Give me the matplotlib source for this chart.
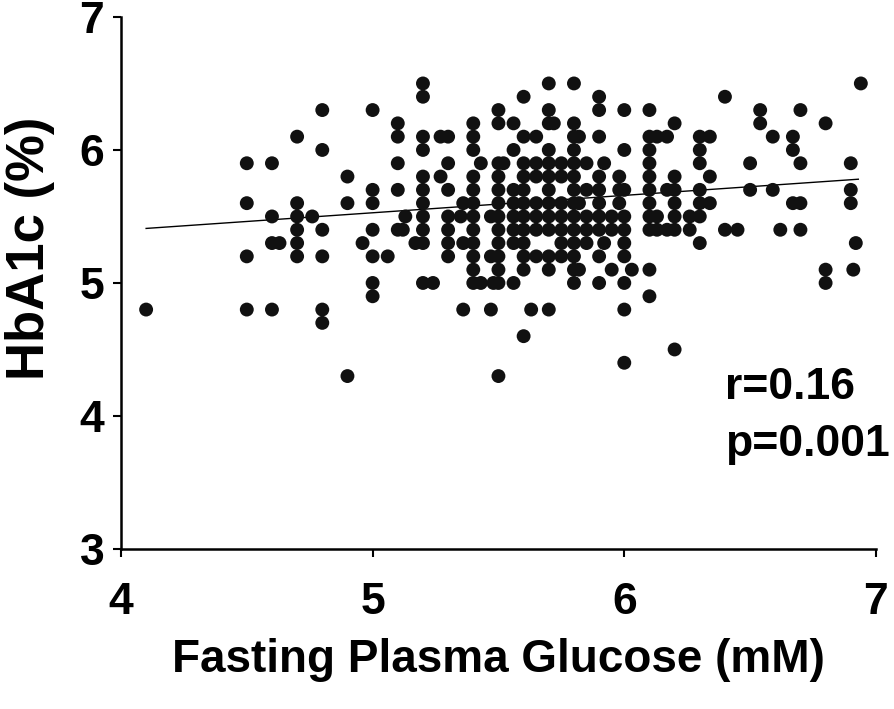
import matplotlib
matplotlib.use("Agg")
import matplotlib.pyplot as plt
import numpy as np

# fasting plasma glucose (mM) and HbA1c (%), read column by column
fpg = (
    [4.1]
    + [4.5] * 4 + [4.6] * 4 + [4.63]
    + [4.7] * 6 + [4.76]
    + [4.8] * 6 + [4.9] * 3 + [4.96]
    + [5.0] * 7 + [5.06]
    + [5.1] * 5 + [5.12, 5.13]
    + [5.2] * 11 + [5.17, 5.24]
    + [5.27, 5.27] + [5.3] * 7
    + [5.36] * 3 + [5.35]
    + [5.4] * 12 + [5.43, 5.43]
    + [5.47] * 3 + [5.48]
    + [5.5] * 13 + [5.52]
    + [5.56] * 8
    + [5.6] * 12 + [5.63]
    + [5.65] * 7
    + [5.7] * 13 + [5.72]
    + [5.75] * 7
    + [5.8] * 14
    + [5.82] * 3
    + [5.85] * 5
    + [5.9] * 10
    + [5.92] * 2
    + [5.95] * 3
    + [5.98] * 3
    + [6.0] * 10 + [6.03]
    + [6.1] * 11
    + [6.13] * 3 + [6.17] * 3
    + [6.2] * 7 + [6.26] * 2
    + [6.3] * 7 + [6.34] * 3
    + [6.4] * 2 + [6.45]
    + [6.5] * 2 + [6.54] * 2 + [6.59] * 2 + [6.62]
    + [6.67] * 3 + [6.7] * 4
    + [6.8] * 3 + [6.9] * 3 + [6.91, 6.92, 6.94]
)
hba1c = (
    [4.8]
    + [5.9, 5.6, 5.2, 4.8] + [5.9, 5.5, 5.3, 4.8] + [5.3]
    + [6.1, 5.6, 5.5, 5.4, 5.3, 5.2] + [5.5]
    + [6.3, 6.0, 5.4, 5.2, 4.8, 4.7] + [5.8, 5.6, 4.3] + [5.3]
    + [6.3, 5.7, 5.6, 5.4, 5.2, 5.0, 4.9] + [5.2]
    + [6.2, 6.1, 5.9, 5.7, 5.4] + [5.4, 5.5]
    + [6.5, 6.4, 6.1, 6.0, 5.8, 5.7, 5.6, 5.5, 5.4, 5.3, 5.0] + [5.3, 5.0]
    + [6.1, 5.8] + [6.1, 5.9, 5.7, 5.5, 5.4, 5.3, 5.2]
    + [5.6, 5.3, 4.8] + [5.5]
    + [6.2, 6.1, 6.0, 5.8, 5.7, 5.6, 5.5, 5.4, 5.3, 5.2, 5.1, 5.0] + [5.9, 5.0]
    + [5.5, 5.2, 4.8] + [5.0]
    + [6.3, 6.2, 5.9, 5.8, 5.7, 5.6, 5.5, 5.4, 5.3, 5.2, 5.1, 5.0, 4.3] + [5.9]
    + [6.2, 6.0, 5.7, 5.6, 5.5, 5.4, 5.3, 5.0]
    + [6.4, 6.1, 5.9, 5.8, 5.7, 5.6, 5.5, 5.4, 5.3, 5.2, 5.1, 4.6] + [4.8]
    + [6.1, 5.9, 5.8, 5.6, 5.5, 5.4, 5.2]
    + [6.5, 6.3, 6.2, 6.0, 5.9, 5.8, 5.7, 5.6, 5.5, 5.4, 5.2, 5.1, 4.8] + [6.2]
    + [5.9, 5.8, 5.6, 5.5, 5.4, 5.3, 5.2]
    + [6.5, 6.2, 6.1, 6.0, 5.9, 5.8, 5.7, 5.6, 5.5, 5.4, 5.3, 5.2, 5.1, 5.0]
    + [6.1, 5.6, 5.1]
    + [5.9, 5.7, 5.5, 5.4, 5.3]
    + [6.4, 6.3, 6.1, 5.8, 5.7, 5.6, 5.5, 5.4, 5.2, 5.0]
    + [5.9, 5.3]
    + [5.5, 5.4, 5.1]
    + [5.8, 5.7, 5.6]
    + [6.3, 6.0, 5.7, 5.5, 5.4, 5.3, 5.2, 5.0, 4.8, 4.4] + [5.1]
    + [6.3, 6.1, 6.0, 5.9, 5.8, 5.7, 5.6, 5.5, 5.4, 5.1, 4.9]
    + [6.1, 5.5, 5.4] + [6.1, 5.7, 5.4]
    + [6.2, 5.8, 5.7, 5.6, 5.5, 5.4, 4.5] + [5.5, 5.4]
    + [6.1, 6.0, 5.9, 5.7, 5.6, 5.5, 5.3] + [6.1, 5.8, 5.6]
    + [6.4, 5.4] + [5.4]
    + [5.9, 5.7] + [6.3, 6.2] + [6.1, 5.7] + [5.4]
    + [6.1, 6.0, 5.6] + [6.3, 5.9, 5.6, 5.4]
    + [6.2, 5.1, 5.0] + [5.9, 5.7, 5.6] + [5.1, 5.3, 6.5]
)

# regression line as drawn in the figure
trend_x = [4.1, 6.93]
trend_y = [5.41, 5.78]

stats_lines = ["r=0.16", "p=0.001"]

plt.rcParams["font.family"] = ["Liberation Sans", "DejaVu Sans"]
plt.rcParams["font.weight"] = "bold"

FS = 32

fig = plt.figure(figsize=(8.94, 7.09), dpi=100)
ax = fig.add_axes([0.1353, 0.2257, 0.8445, 0.7504])

ax.scatter(fpg, hba1c, s=100, color="#111111", edgecolors="none", zorder=3)
ax.plot(trend_x, trend_y, color="black", lw=1.0, zorder=2)

ax.set_xlim(4, 7)
ax.set_ylim(3, 7)
ax.set_xticks([4, 5, 6, 7])
ax.set_yticks([3, 4, 5, 6, 7])
ax.tick_params(direction="out", length=6, width=1.5, labelsize=FS, pad=6)
for lab in ax.get_xticklabels() + ax.get_yticklabels():
    lab.set_fontweight("bold")
ax.tick_params(axis="x", pad=18)

for side in ("top", "right"):
    ax.spines[side].set_visible(False)
for side in ("left", "bottom"):
    ax.spines[side].set_linewidth(1.8)

ax.set_xlabel("Fasting Plasma Glucose (mM)", fontsize=33, fontweight="bold")
ax.set_ylabel("HbA1c (%)", fontsize=38, fontweight="bold")
ax.xaxis.set_label_coords(0.5, -0.167)
ax.yaxis.set_label_coords(-0.088, 0.566)

ax.text(6.40, 4.13, stats_lines[0], fontsize=FS, fontweight="bold",
        ha="left", va="baseline")
ax.text(6.40, 3.70, stats_lines[1], fontsize=FS, fontweight="bold",
        ha="left", va="baseline")

fig.savefig("out.png", dpi=100)
